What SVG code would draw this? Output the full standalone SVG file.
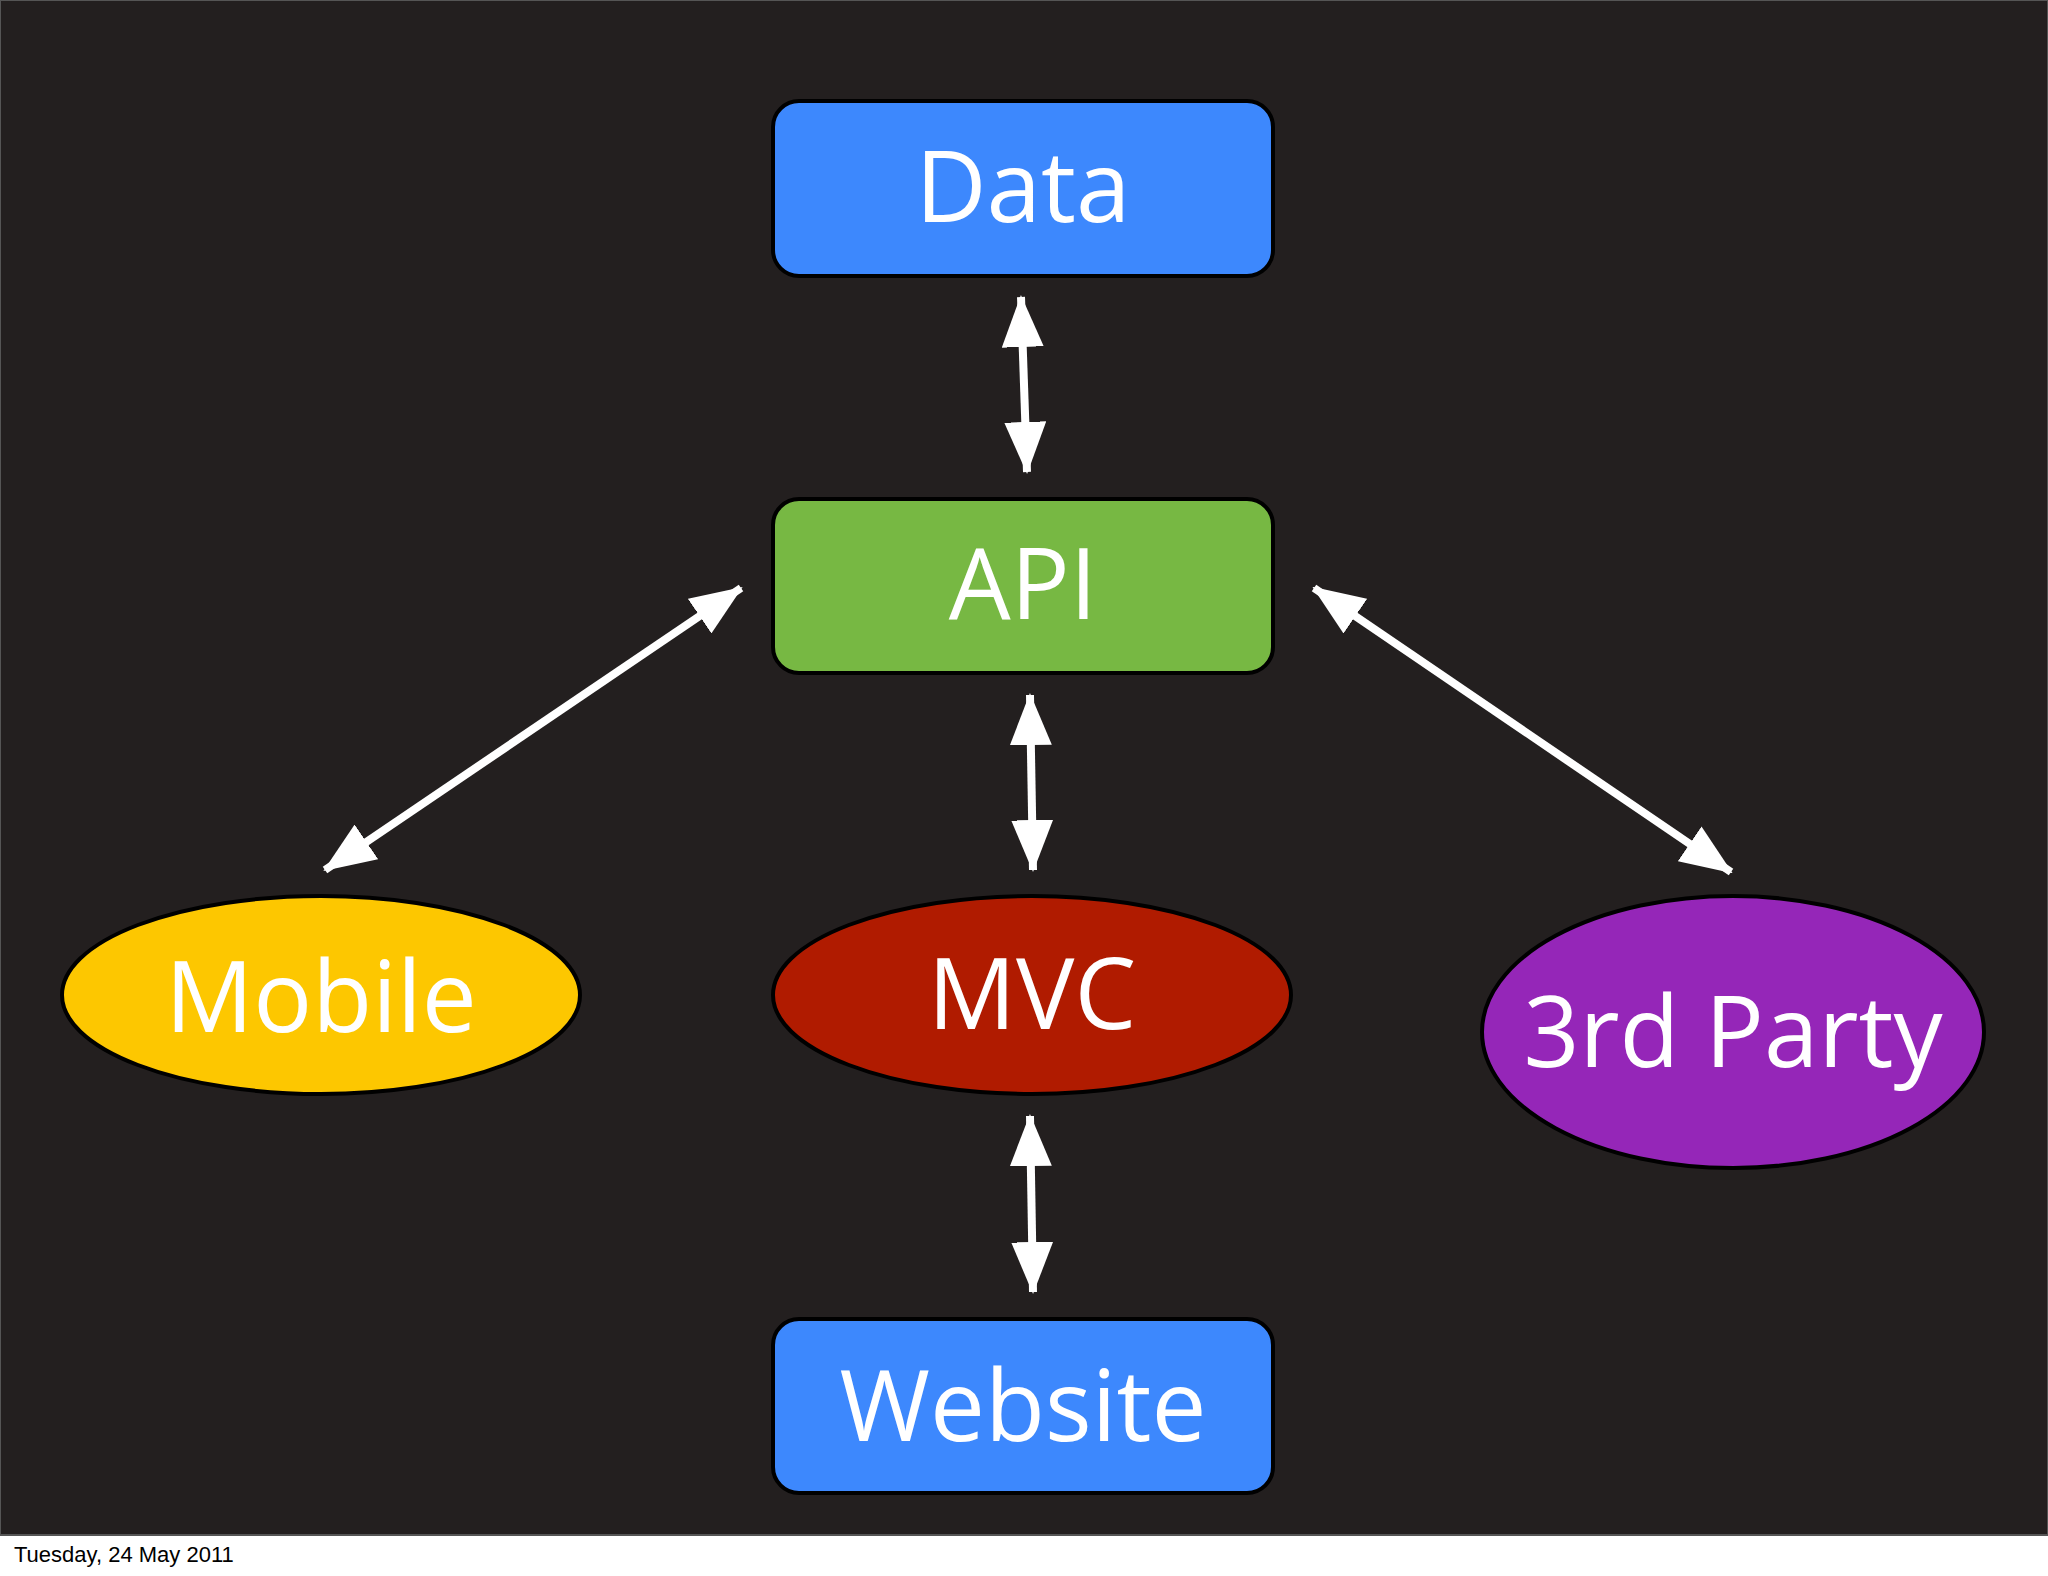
<svg xmlns="http://www.w3.org/2000/svg" width="2048" height="1576" viewBox="0 0 2048 1576">
<style>
.n{stroke:#000;stroke-width:4}
.t{font-family:"Open Sans","DejaVu Sans",sans-serif;font-size:98px;fill:#fff;text-anchor:middle}
.c{stroke:#fff;stroke-width:8;fill:none;marker-start:url(#a);marker-end:url(#a)}
</style>
<defs>
<marker id="a" viewBox="0 0 52 42" refX="50" refY="21" markerWidth="52" markerHeight="42" markerUnits="userSpaceOnUse" orient="auto-start-reverse">
<path d="M0,0 L52,21 L0,42 Z" fill="#fff"/>
</marker>
</defs>
<rect width="2048" height="1576" fill="#fff"/>
<rect x="0" y="0" width="2048" height="1535" fill="#231f1f" stroke="#555" stroke-width="2"/>
<g id="connectors">
<line class="c" x1="1021" y1="297" x2="1027" y2="472"/>
<line class="c" x1="1030" y1="695" x2="1033" y2="870"/>
<line class="c" x1="1030" y1="1116" x2="1033" y2="1292"/>
<line class="c" x1="741" y1="588" x2="325" y2="870"/>
<line class="c" x1="1314" y1="588" x2="1731" y2="872"/>
</g>
<g id="data"><rect class="n" x="773" y="101" width="500" height="175" rx="26" fill="#3d88fd"/><text class="t" x="1023" y="222">Data</text></g>
<g id="api"><rect class="n" x="773" y="499" width="500" height="174" rx="26" fill="#77b843"/><text class="t" x="1023" y="619">API</text></g>
<g id="website"><rect class="n" x="773" y="1319" width="500" height="174" rx="26" fill="#3d88fd"/><text class="t" x="1023" y="1441">Website</text></g>
<g id="mobile"><ellipse class="n" cx="321" cy="995" rx="259" ry="99" fill="#fdc700"/><text class="t" x="321" y="1032">Mobile</text></g>
<g id="mvc"><ellipse class="n" cx="1032" cy="995" rx="259" ry="99" fill="#b01b00"/><text class="t" x="1032" y="1029">MVC</text></g>
<g id="third"><ellipse class="n" cx="1733" cy="1032" rx="251" ry="136" fill="#9526b8"/><text class="t" x="1733" y="1067">3rd Party</text></g>
<text x="14" y="1562" font-family="Liberation Sans, Arial, sans-serif" font-size="22" fill="#000">Tuesday, 24 May 2011</text>
</svg>
